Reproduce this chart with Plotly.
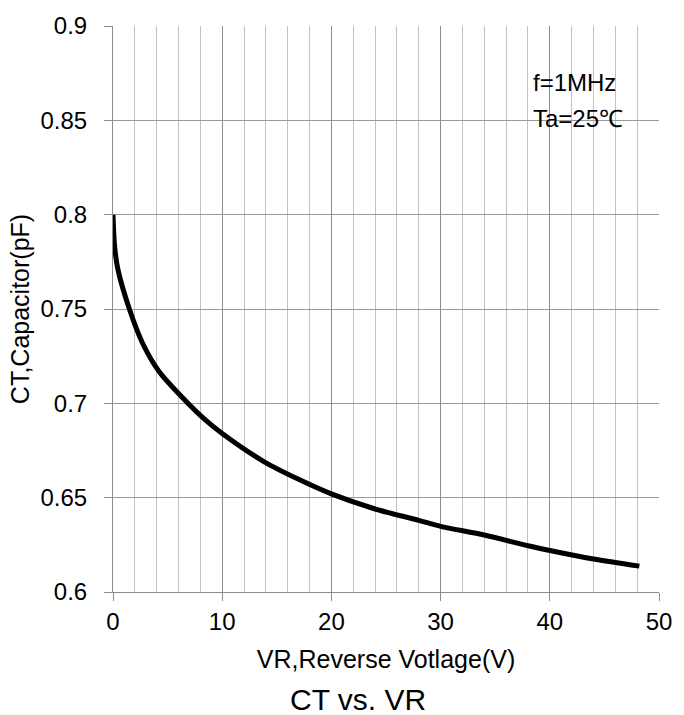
import plotly.graph_objects as go

# Data
vr = [0, 0.15, 0.45, 1.5, 2.7, 4.2, 6.2, 8.3, 10, 13.85, 16.9, 20, 24, 28, 30, 34, 38, 40, 44, 48.2]
ct = [0.800, 0.783, 0.771, 0.750, 0.732, 0.717, 0.704, 0.692, 0.684, 0.669, 0.660, 0.652,
      0.644, 0.638, 0.6348, 0.6302, 0.6245, 0.622, 0.6175, 0.6137]

x_ticks = [0, 10, 20, 30, 40, 50]
y_ticks = [0.6, 0.65, 0.7, 0.75, 0.8, 0.85, 0.9]
notes = ["f=1MHz", "Ta=25℃"]
note_y = [0.870, 0.851]

FONT = "Liberation Sans, Arial, sans-serif"
W, H = 684, 715
ML, MR, MT, MB = 113, 17, 21, 123
PW, PH = W - ML - MR, H - MT - MB

fig = go.Figure()
fig.add_trace(go.Scatter(
    x=vr, y=ct, mode="lines",
    line=dict(color="black", width=5, shape="spline", smoothing=0.8),
    showlegend=False, hoverinfo="skip",
))

for txt, yy in zip(notes, note_y):
    fig.add_annotation(x=38.3, y=yy, xref="x", yref="y", text=txt, showarrow=False,
                       xanchor="left", yanchor="middle",
                       font=dict(family=FONT, size=24, color="black"))

# chart caption below the x-axis title (pixel position converted to paper coords)
fig.add_annotation(text="CT vs. VR",
                   x=(362 - ML) / PW, y=(H - 700 - MB) / PH,
                   xref="paper", yref="paper",
                   showarrow=False, xanchor="center", yanchor="middle",
                   font=dict(family=FONT, size=30, color="black"))

fig.update_layout(
    width=W, height=H,
    margin=dict(l=ML, r=MR, t=MT, b=MB),
    paper_bgcolor="white", plot_bgcolor="white",
    font=dict(family=FONT, size=24, color="black"),
)

fig.update_xaxes(
    range=[0, 50], tickvals=x_ticks, ticks="outside", ticklen=8, tickcolor="#8c8c8c",
    showgrid=True, gridcolor="#8c8c8c", gridwidth=1,
    minor=dict(dtick=2, tick0=0, showgrid=True, gridcolor="#c0c0c0", gridwidth=1, ticks=""),
    showline=True, linecolor="#8c8c8c", linewidth=1, mirror=False,
    zeroline=False,
    title=dict(text="VR,Reverse Votlage(V)", standoff=16, font=dict(size=25)),
    tickfont=dict(size=24),
)
fig.update_yaxes(
    range=[0.6, 0.9], tickvals=y_ticks, ticktext=[f"{v:g}" for v in y_ticks],
    ticks="outside", ticklen=8, tickcolor="#8c8c8c",
    ticklabelstandoff=12,
    showgrid=True, gridcolor="#999999", gridwidth=1,
    showline=True, linecolor="#8c8c8c", linewidth=1,
    zeroline=False,
    title=dict(text="CT,Capacitor(pF)", standoff=3, font=dict(size=25)),
    tickfont=dict(size=24),
)

fig.write_html("out.html")
